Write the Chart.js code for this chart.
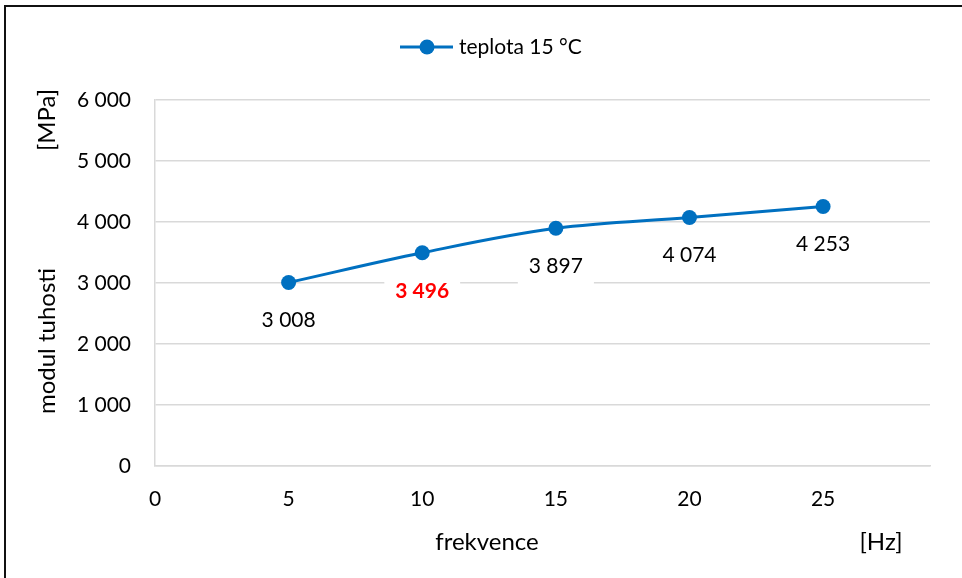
<!DOCTYPE html>
<html>
<head>
<meta charset="utf-8">
<script src="https://cdn.jsdelivr.net/npm/chart.js@4"></script>
<style>
  html, body { margin: 0; padding: 0; background: #fff; }
  #wrap { position: relative; width: 962px; height: 578px; overflow: hidden; }
  #frame { position: absolute; left: 4px; top: 5px; right: -10px; bottom: -10px;
           border-left: 2px solid #111; border-top: 2px solid #111; pointer-events: none; }
  canvas { position: absolute; left: 0; top: 0; }
</style>
</head>
<body>
<div id="wrap">
  <canvas id="c" width="962" height="578"></canvas>
  <div id="frame"></div>
</div>
<script>
// Frequency [Hz] and stiffness modulus [MPa] at 15 °C
const frequencies = [5, 10, 15, 20, 25];
const modulus = [3008, 3496, 3897, 4074, 4253];
const highlightIndex = 1;            // value shown in red bold
const seriesName = 'teplota 15 °C';
const xTickValues = [0, 5, 10, 15, 20, 25];
const yTickValues = [0, 1000, 2000, 3000, 4000, 5000, 6000];

const FONT = 'Lato, "Open Sans", "Noto Sans", sans-serif';
const BLUE = '#0070C0';
const GRID = '#d9d9d9';
const TICK_SIZE = 21;
const TITLE_SIZE = 24;

const fmt = v => String(v).replace(/\B(?=(\d{3})+(?!\d))/g, ' ');

const decorations = {
  id: 'decorations',
  afterDatasetsDraw(chart) {
    const ctx = chart.ctx;
    const xs = chart.scales.x, ys = chart.scales.y;
    ctx.save();
    // value labels below each point, on white boxes
    modulus.forEach((v, i) => {
      const px = xs.getPixelForValue(frequencies[i]);
      const py = ys.getPixelForValue(v) + 38;
      const bold = i === highlightIndex;
      ctx.font = (bold ? 'bold ' : '') + TICK_SIZE + 'px ' + FONT;
      const t = fmt(v);
      const w = ctx.measureText(t).width + 22;
      ctx.fillStyle = '#fff';
      ctx.fillRect(px - w / 2, py - 20, w, 40);
      ctx.fillStyle = bold ? '#ff0000' : '#000';
      ctx.textAlign = 'center';
      ctx.textBaseline = 'middle';
      ctx.fillText(t, px, py);
    });

    // legend
    const ly = 47;
    ctx.strokeStyle = BLUE;
    ctx.lineWidth = 3;
    ctx.beginPath();
    ctx.moveTo(400, ly);
    ctx.lineTo(453, ly);
    ctx.stroke();
    ctx.fillStyle = BLUE;
    ctx.beginPath();
    ctx.arc(427, ly, 7.5, 0, Math.PI * 2);
    ctx.fill();
    ctx.font = TICK_SIZE + 'px ' + FONT;
    ctx.fillStyle = '#000';
    ctx.textAlign = 'left';
    ctx.textBaseline = 'middle';
    ctx.fillText(seriesName, 459, ly);

    // axis titles
    ctx.font = TITLE_SIZE + 'px ' + FONT;
    ctx.textAlign = 'center';
    ctx.fillText('frekvence', 487, 542);
    ctx.fillText('[Hz]', 881, 542);
    ctx.save();
    ctx.translate(47, 341);
    ctx.rotate(-Math.PI / 2);
    ctx.fillText('modul tuhosti', 0, 0);
    ctx.restore();
    ctx.save();
    ctx.translate(47, 120);
    ctx.rotate(-Math.PI / 2);
    ctx.fillText('[MPa]', 0, 0);
    ctx.restore();
    ctx.restore();
  }
};

new Chart(document.getElementById('c'), {
  type: 'line',
  data: {
    datasets: [{
      label: seriesName,
      data: frequencies.map((f, i) => ({ x: f, y: modulus[i] })),
      borderColor: BLUE,
      backgroundColor: BLUE,
      borderWidth: 3,
      pointRadius: 7.5,
      pointHoverRadius: 7.5,
      pointBackgroundColor: BLUE,
      pointBorderWidth: 0,
      tension: 0.35,
      fill: false
    }]
  },
  options: {
    responsive: false,
    animation: false,
    events: [],
    layout: { padding: { top: 100, right: 32, left: 0, bottom: 0 } },
    plugins: { legend: { display: false }, tooltip: { enabled: false } },
    scales: {
      x: {
        type: 'linear',
        min: 0,
        max: 29,
        afterBuildTicks(scale) { scale.ticks = xTickValues.map(v => ({ value: v })); },
        afterFit(scale) { scale.height = 112; },
        grid: { display: false, drawTicks: false },
        border: { display: true, color: GRID, width: 1.5 },
        ticks: { padding: 21, color: '#000', font: { family: FONT, size: TICK_SIZE } }
      },
      y: {
        min: 0,
        max: 6000,
        afterBuildTicks(scale) { scale.ticks = yTickValues.map(v => ({ value: v })); },
        afterFit(scale) { scale.width = 155; },
        grid: { color: GRID, lineWidth: 1.5, drawTicks: false },
        border: { display: true, color: GRID, width: 1.5 },
        ticks: { padding: 24, color: '#000', font: { family: FONT, size: TICK_SIZE }, callback: v => fmt(v) }
      }
    }
  },
  plugins: [decorations]
});
</script>
</body>
</html>
